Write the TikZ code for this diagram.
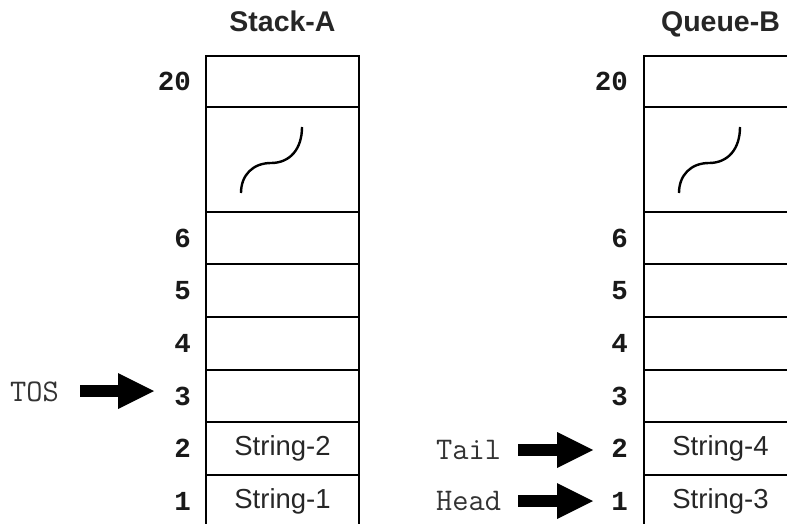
\documentclass[tikz,border=0pt]{standalone}
\usepackage{fontspec}
\setmainfont{Liberation Sans}
\newfontfamily\monofont{Liberation Mono}
\usetikzlibrary{arrows.meta}
\tikzset{
  cell/.style={draw, line width=1.8pt, minimum width=153pt, inner sep=0pt, outer sep=0pt},
  num/.style={font=\monofont\bfseries\fontsize{27.5}{30}\selectfont, anchor=east, inner sep=0pt, text=black!90},
  str/.style={font=\fontsize{27.5}{30}\selectfont, inner sep=0pt, text=black!85},
  title/.style={font=\bfseries\fontsize{28.5}{32}\selectfont, anchor=base, inner sep=0pt, text=black!85},
  ptrlabel/.style={font=\ttfamily\fontsize{31.5}{34}\selectfont, anchor=west, inner sep=0pt, text=black!80},
  ptr/.style={line width=12pt, -{Triangle[length=36pt,width=36pt,line width=0pt]}},
  squiggle/.style={line width=2.4pt},
}
\begin{document}
\begin{tikzpicture}[x=1pt, y=-1pt]
\useasboundingbox (0,0) rectangle (787,524);
\clip (0,0) rectangle (787,524);
% Stack-A
\node[title] (tA) at (282.5,32) {Stack-A};
\node[cell, minimum height=51pt]  (a20) at (282.5,81.5) {};
\node[cell, minimum height=105pt] (agap) at (282.5,159.5) {};
\node[cell, minimum height=52pt]  (a6) at (282.5,238) {};
\node[cell, minimum height=53pt]  (a5) at (282.5,290.5) {};
\node[cell, minimum height=53pt]  (a4) at (282.5,343.5) {};
\node[cell, minimum height=52pt]  (a3) at (282.5,396) {};
\node[cell, minimum height=53pt]  (a2) at (282.5,448.5) {};
\node[cell, minimum height=52pt]  (a1) at (282.5,501) {};
\node[str] (a2t) at (282.5,448.5) {String-2};
\node[str] (a1t) at (282.5,501) {String-1};
\draw[squiggle] (241,193) .. controls (241,175) and (253,163) .. (271,163)
                          .. controls (290,163) and (302,149) .. (302,127);
\node[num] (na20) at (191,81.5) {20};
\node[num] (na6) at (191,238) {6};
\node[num] (na5) at (191,290.5) {5};
\node[num] (na4) at (191,343.5) {4};
\node[num] (na3) at (191,396) {3};
\node[num] (na2) at (191,448.5) {2};
\node[num] (na1) at (191,501) {1};
\node[ptrlabel] (tos) at (10,392) {TOS};
\coordinate (tosA) at (80,391);
\coordinate (tosB) at (154,391);
\draw[ptr] (tosA) -- (tosB);
% Queue-B
\node[title] (tB) at (720.5,32) {Queue-B};
\node[cell, minimum height=51pt]  (b20) at (720.5,81.5) {};
\node[cell, minimum height=105pt] (bgap) at (720.5,159.5) {};
\node[cell, minimum height=52pt]  (b6) at (720.5,238) {};
\node[cell, minimum height=53pt]  (b5) at (720.5,290.5) {};
\node[cell, minimum height=53pt]  (b4) at (720.5,343.5) {};
\node[cell, minimum height=52pt]  (b3) at (720.5,396) {};
\node[cell, minimum height=53pt]  (b2) at (720.5,448.5) {};
\node[cell, minimum height=52pt]  (b1) at (720.5,501) {};
\node[str] (b2t) at (720.5,448.5) {String-4};
\node[str] (b1t) at (720.5,501) {String-3};
\draw[squiggle] (679,193) .. controls (679,175) and (691,163) .. (709,163)
                          .. controls (728,163) and (740,149) .. (740,127);
\node[num] (nb20) at (628,81.5) {20};
\node[num] (nb6) at (628,238) {6};
\node[num] (nb5) at (628,290.5) {5};
\node[num] (nb4) at (628,343.5) {4};
\node[num] (nb3) at (628,396) {3};
\node[num] (nb2) at (628,448.5) {2};
\node[num] (nb1) at (628,501) {1};
\node[ptrlabel] (tail) at (436,450) {Tail};
\node[ptrlabel] (head) at (436,501) {Head};
\coordinate (tailA) at (518,450);
\coordinate (tailB) at (593,450);
\coordinate (headA) at (518,501);
\coordinate (headB) at (593,501);
\draw[ptr] (tailA) -- (tailB);
\draw[ptr] (headA) -- (headB);
\end{tikzpicture}
\end{document}
